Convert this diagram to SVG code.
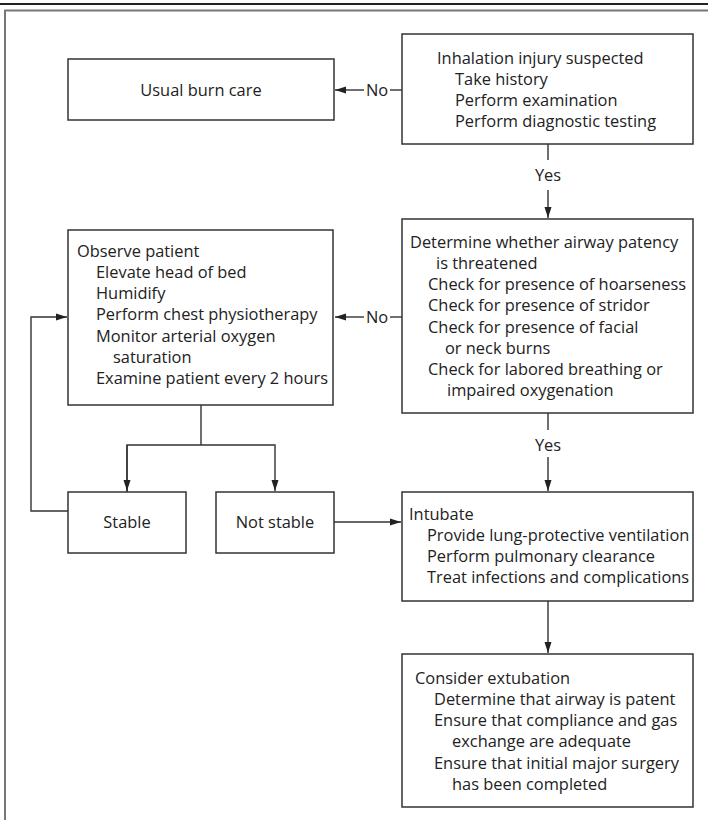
<svg xmlns="http://www.w3.org/2000/svg" width="708" height="820" viewBox="0 0 708 820">
<style>
.box{fill:#fff;stroke:#333;stroke-width:1.5}
.t{font-family:"Open Sans","Liberation Sans",Arial,sans-serif;font-size:16.4px;fill:#222}
.c{text-anchor:middle}
.ln{fill:none;stroke:#333;stroke-width:1.4}
</style>
<defs>
<marker id="ah" markerUnits="userSpaceOnUse" markerWidth="12" markerHeight="8" refX="11" refY="4" orient="auto">
<path d="M0,0.5 L11,4 L0,7.5 z" fill="#222"/>
</marker>
</defs>
<rect width="708" height="820" fill="#fff"/>
<g id="frame">
<line x1="0" y1="4" x2="708" y2="4" stroke="#222" stroke-width="1.8"/>
<polyline points="5,820 5,10.5 708,10.5" fill="none" stroke="#777" stroke-width="2"/>
</g>
<g id="connectors">
<line class="ln" x1="402" y1="90" x2="390" y2="90"/>
<line class="ln" x1="364" y1="90" x2="335" y2="90" marker-end="url(#ah)"/>
<text class="t c" x="377" y="96">No</text>
<line class="ln" x1="548" y1="144" x2="548" y2="160"/>
<text class="t c" x="548" y="181">Yes</text>
<line class="ln" x1="548" y1="190" x2="548" y2="218" marker-end="url(#ah)"/>
<line class="ln" x1="402" y1="317" x2="390" y2="317"/>
<line class="ln" x1="364" y1="317" x2="335" y2="317" marker-end="url(#ah)"/>
<text class="t c" x="377" y="323">No</text>
<line class="ln" x1="548" y1="413" x2="548" y2="430"/>
<text class="t c" x="548" y="451">Yes</text>
<line class="ln" x1="548" y1="457" x2="548" y2="491" marker-end="url(#ah)"/>
<polyline class="ln" points="201,405 201,445"/>
<polyline class="ln" points="127,492 127,445 275,445 275,491" marker-end="url(#ah)"/>
<line class="ln" x1="127" y1="445" x2="127" y2="491" marker-end="url(#ah)"/>
<polyline class="ln" points="68,511 31,511 31,317 67,317" marker-end="url(#ah)"/>
<line class="ln" x1="334" y1="522" x2="401" y2="522" marker-end="url(#ah)"/>
<line class="ln" x1="548" y1="601" x2="548" y2="653" marker-end="url(#ah)"/>
</g>
<g id="usual">
<rect class="box" x="68" y="59" width="266" height="61"/>
<text class="t c" x="201" y="96">Usual burn care</text>
</g>
<g id="inhalation">
<rect class="box" x="402" y="34" width="291" height="110"/>
<text class="t" x="437" y="64">Inhalation injury suspected</text>
<text class="t" x="455" y="85">Take history</text>
<text class="t" x="455" y="106">Perform examination</text>
<text class="t" x="455" y="127">Perform diagnostic testing</text>
</g>
<g id="observe">
<rect class="box" x="68" y="230" width="265" height="175"/>
<text class="t" x="77" y="257">Observe patient</text>
<text class="t" x="96" y="278">Elevate head of bed</text>
<text class="t" x="96" y="299">Humidify</text>
<text class="t" x="96" y="320">Perform chest physiotherapy</text>
<text class="t" x="96" y="341.5">Monitor arterial oxygen</text>
<text class="t" x="113" y="362.5">saturation</text>
<text class="t" x="96" y="384">Examine patient every 2 hours</text>
</g>
<g id="airway">
<rect class="box" x="402" y="219" width="291" height="194"/>
<text class="t" x="410" y="248">Determine whether airway patency</text>
<text class="t" x="436" y="269">is threatened</text>
<text class="t" x="428" y="290">Check for presence of hoarseness</text>
<text class="t" x="428" y="311">Check for presence of stridor</text>
<text class="t" x="428" y="333">Check for presence of facial</text>
<text class="t" x="445" y="354">or neck burns</text>
<text class="t" x="428" y="375">Check for labored breathing or</text>
<text class="t" x="447" y="396">impaired oxygenation</text>
</g>
<g id="stable">
<rect class="box" x="68" y="492" width="118" height="61"/>
<text class="t c" x="127" y="528">Stable</text>
</g>
<g id="notstable">
<rect class="box" x="216" y="492" width="118" height="61"/>
<text class="t c" x="275" y="528">Not stable</text>
</g>
<g id="intubate">
<rect class="box" x="402" y="492" width="291" height="109"/>
<text class="t" x="409" y="520">Intubate</text>
<text class="t" x="427" y="541">Provide lung-protective ventilation</text>
<text class="t" x="427" y="562">Perform pulmonary clearance</text>
<text class="t" x="427" y="583">Treat infections and complications</text>
</g>
<g id="extubation">
<rect class="box" x="402" y="654" width="291" height="153"/>
<text class="t" x="415" y="684">Consider extubation</text>
<text class="t" x="434" y="705">Determine that airway is patent</text>
<text class="t" x="434" y="726">Ensure that compliance and gas</text>
<text class="t" x="452" y="747">exchange are adequate</text>
<text class="t" x="434" y="769">Ensure that initial major surgery</text>
<text class="t" x="452" y="790">has been completed</text>
</g>
</svg>
